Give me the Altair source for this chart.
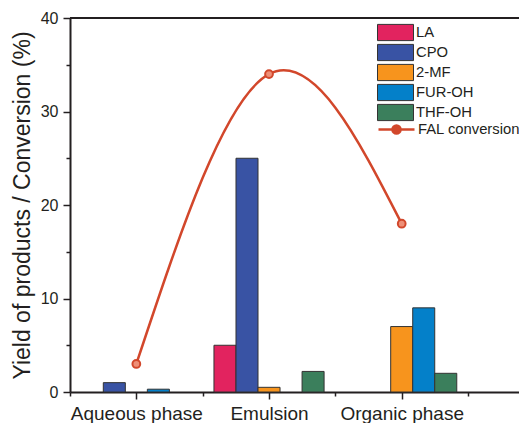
import altair as alt
import pandas as pd

phases = ["Aqueous phase", "Emulsion", "Organic phase"]
series = ["LA", "CPO", "2-MF", "FUR-OH", "THF-OH"]
colors = ["#E2235F", "#3953A4", "#F7941D", "#0480C9", "#3B7F5C"]
la = [0, 5, 0]
cpo = [1.0, 25, 0]
mf2 = [0, 0.5, 7]
furoh = [0.3, 0, 9]
thfoh = [0, 2.2, 2]
conversion = [3, 34, 18]
line_name = "FAL conversion"
line_color = "#D2472B"

values = [la, cpo, mf2, furoh, thfoh]
rows = []
for k, (s, vals) in enumerate(zip(series, values)):
    for g, v in enumerate(vals):
        rows.append({"series": s, "k": k, "g": g + 1, "value": v})
bars_df = pd.DataFrame(rows)
line_df = pd.DataFrame({"g": [1, 2, 3], "conv": conversion, "name": line_name})

BARW = 0.166
FONT = "Liberation Sans"
TXT = "#231F20"

label_expr = " : ".join(
    [f"datum.value == {i+1} ? '{p}'" for i, p in enumerate(phases)]
) + " : ''"

xscale = alt.Scale(domain=[0.5, 3.884], nice=False, zero=False)
yscale = alt.Scale(domain=[0, 40], nice=False)

xaxis = alt.Axis(
    values=[0.5, 1, 1.5, 2, 2.5, 3, 3.5],
    labelExpr=label_expr,
    title=None,
    grid=False,
    labelFontSize=19,
    labelFont=FONT,
    labelColor=TXT,
    labelPadding=5,
    tickSize={"condition": {"test": "datum.value % 1 != 0", "value": 4}, "value": 7},
    tickWidth=1.5,
    tickColor=TXT,
    domainColor=TXT,
    domainWidth=2,
    labelOverlap=False,
)
yaxis = alt.Axis(
    values=[0, 5, 10, 15, 20, 25, 30, 35, 40],
    labelExpr="datum.value % 10 == 0 ? datum.value : ''",
    title="Yield of products / Conversion (%)",
    grid=False,
    labelFontSize=16,
    labelFont=FONT,
    labelColor=TXT,
    labelPadding=5,
    tickSize={"condition": {"test": "datum.value % 10 != 0", "value": 4}, "value": 7},
    tickWidth=1.5,
    tickColor=TXT,
    domainColor=TXT,
    domainWidth=2,
    titleFont=FONT,
    titleFontSize=23,
    titleFontWeight="normal",
    titleColor=TXT,
    titlePadding=6,
)

rect_path = "M-2,-0.9L2,-0.9L2,0.9L-2,0.9Z"
line_path = "M-2,0L-0.45,0M0.45,0A0.45,0.45 0 1,1 -0.45,0A0.45,0.45 0 1,1 0.45,0M0.45,0L2,0"

bars = (
    alt.Chart(bars_df)
    .transform_filter("datum.value > 0")
    .transform_calculate(
        x1=f"datum.g + (datum.k - 2) * {BARW} - {BARW/2}",
        x2=f"datum.g + (datum.k - 2) * {BARW} + {BARW/2}",
    )
    .mark_bar(stroke="#333333", strokeWidth=1)
    .encode(
        x=alt.X("x1:Q", scale=xscale, axis=xaxis),
        x2="x2:Q",
        y=alt.Y("value:Q", scale=yscale, axis=yaxis),
        y2=alt.datum(0),
        color=alt.Color(
            "series:N",
            scale=alt.Scale(domain=series, range=colors),
            legend=alt.Legend(
                title=None,
                orient="none",
                legendX=316,
                legendY=5,
                padding=0,
                symbolType=rect_path,
                symbolSize=324,
                symbolStrokeColor="#333333",
                symbolStrokeWidth=1,
                labelFont=FONT,
                labelFontSize=14.8,
                labelColor=TXT,
                labelOffset=11,
                rowPadding=-1.5,
            ),
        ),
    )
)

line = (
    alt.Chart(line_df)
    .mark_line(interpolate="natural", strokeWidth=2.5)
    .encode(
        x=alt.X("g:Q", scale=xscale),
        y=alt.Y("conv:Q", scale=yscale),
        stroke=alt.Stroke(
            "name:N",
            scale=alt.Scale(domain=[line_name], range=[line_color]),
            legend=alt.Legend(
                title=None,
                orient="none",
                legendX=316,
                legendY=101,
                padding=0,
                symbolType=line_path,
                symbolSize=324,
                symbolStrokeWidth=2.5,
                symbolFillColor=line_color,
                labelFont=FONT,
                labelFontSize=14.8,
                labelColor=TXT,
                labelOffset=11,
            ),
        ),
    )
)

points = (
    alt.Chart(line_df)
    .mark_point(filled=True, size=60, fill="#EE8F77", stroke=line_color, strokeWidth=2, opacity=1)
    .encode(
        x=alt.X("g:Q", scale=xscale),
        y=alt.Y("conv:Q", scale=yscale),
    )
)

top = (
    alt.Chart(line_df)
    .mark_rule(color=TXT, strokeWidth=2)
    .encode(y=alt.datum(40, scale=yscale))
)

chart = (
    alt.layer(bars, line, points, top)
    .properties(
        width=449,
        height=374,
        autosize=alt.AutoSizeParams(type="none"),
        padding={"left": 62, "top": 10, "right": 0, "bottom": 31},
    )
    .configure_view(stroke=None)
    .resolve_legend(color="independent", stroke="independent")
)

chart.save("out.html", embed_options={"renderer": "svg", "actions": False})
